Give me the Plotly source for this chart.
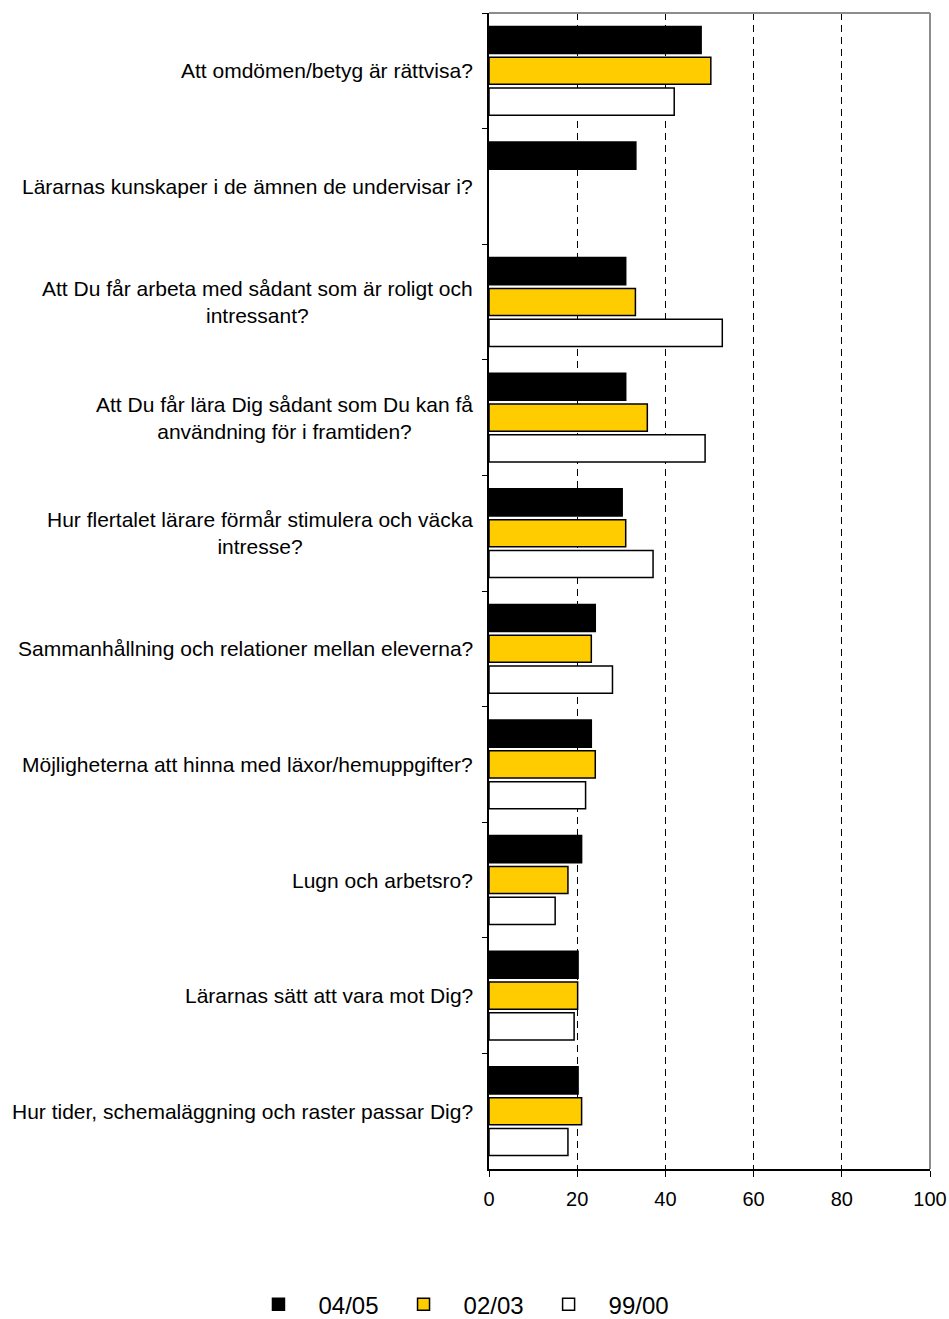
import plotly.graph_objects as go

categories = [
    "Att omdömen/betyg är rättvisa?",
    "Lärarnas kunskaper i de ämnen de undervisar i?",
    "Att Du får arbeta med sådant som är roligt och<br>intressant?",
    "Att Du får lära Dig sådant som Du kan få<br>användning för i framtiden?",
    "Hur flertalet lärare förmår stimulera och väcka<br>intresse?",
    "Sammanhållning och relationer mellan eleverna?",
    "Möjligheterna att hinna med läxor/hemuppgifter?",
    "Lugn och arbetsro?",
    "Lärarnas sätt att vara mot Dig?",
    "Hur tider, schemaläggning och raster passar Dig?",
]
series_names = ["04/05", "02/03", "99/00"]
v_0405 = [48.1, 33.3, 31.0, 31.0, 30.2, 24.1, 23.2, 21.0, 20.2, 20.2]
v_0203 = [50.3, None, 33.2, 35.9, 31.0, 23.2, 24.1, 17.9, 20.1, 21.0]
v_9900 = [42.0, None, 52.9, 49.0, 37.2, 28.0, 21.9, 15.0, 19.3, 17.9]
x_ticks = [0, 20, 40, 60, 80, 100]

FONT = "Liberation Sans, Arial, sans-serif"
fills = ["#000000", "#FFCC00", "#FFFFFF"]

fig = go.Figure()
for name, vals, col in zip(series_names, [v_0405, v_0203, v_9900], fills):
    fig.add_trace(go.Bar(
        y=categories, x=vals, name=name, orientation="h",
        marker=dict(color=col, line=dict(color="#000000", width=1.5)),
    ))

for c in categories:
    fig.add_annotation(
        x=0, xref="paper", y=c, yref="y", text=c, showarrow=False,
        xanchor="right", yanchor="middle", align="center", xshift=-14,
        font=dict(family=FONT, size=21, color="#000000"),
    )

# top and right frame (grey)
fig.add_shape(type="line", xref="paper", yref="paper", x0=0, x1=1, y0=1, y1=1,
              line=dict(color="#8c8c8c", width=2), layer="above")
fig.add_shape(type="line", xref="paper", yref="paper", x0=1, x1=1, y0=0, y1=1,
              line=dict(color="#8c8c8c", width=2), layer="above")

fig.update_layout(
    width=949, height=1319, autosize=False,
    margin=dict(l=489, r=19, t=13, b=150, autoexpand=False),
    paper_bgcolor="white", plot_bgcolor="white",
    barmode="group", bargap=0.2, bargroupgap=0.12,
    font=dict(family=FONT, size=20, color="#000000"),
    showlegend=True,
    legend=dict(
        orientation="h", xref="container", yref="container",
        x=0.481, xanchor="center", y=0.0108, yanchor="middle",
        font=dict(family=FONT, size=24), itemwidth=70,
        traceorder="normal",
    ),
    xaxis=dict(
        range=[0, 100], tickvals=x_ticks, ticks="outside", ticklen=6,
        tickcolor="#000000", showline=True, linecolor="#000000", linewidth=1.5,
        showgrid=True, gridcolor="#000000", gridwidth=1, griddash="7px,5px",
        zeroline=False, tickfont=dict(size=20), ticklabelstandoff=5,
        automargin=False,
    ),
    yaxis=dict(
        autorange="reversed", showticklabels=False, ticks="outside",
        tickson="boundaries", ticklen=5, tickcolor="#000000",
        showline=True, linecolor="#000000", linewidth=1.5, showgrid=False,
        automargin=False,
    ),
)

fig.write_html(
    "out.html",
    config={"responsive": False, "displayModeBar": False},
    post_script=(
        "document.documentElement.style.overflow='hidden';"
        "document.body.style.margin='0';document.body.style.overflow='hidden';"
    ),
)
